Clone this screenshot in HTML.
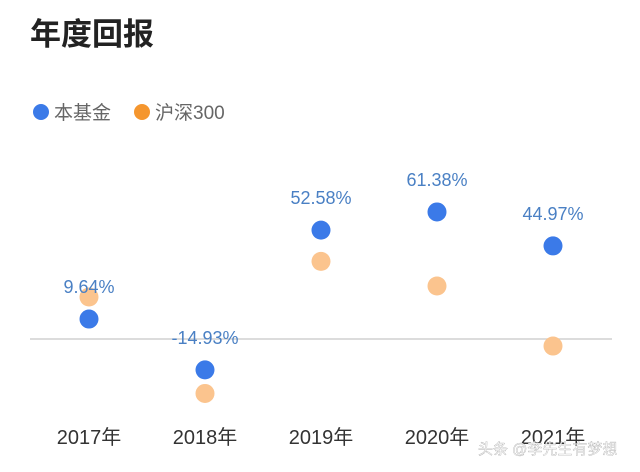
<!DOCTYPE html>
<html><head><meta charset="utf-8"><style>
body{margin:0;background:#fff;width:640px;height:472px;overflow:hidden;font-family:"Liberation Sans","Noto Sans CJK SC",sans-serif;}
</style></head><body>
<svg id="c" width="640" height="472" style="position:absolute;left:0;top:0">
<text x="30" y="45" font-size="31" fill="#222" font-weight="bold" font-family="Liberation Sans,Noto Sans CJK SC,sans-serif">年度回报</text>
<g>
<circle cx="41" cy="112" r="8" fill="#3b7ae8"/>
<text x="54" y="119" font-size="19" fill="#666" font-family="Liberation Sans,Noto Sans CJK SC,sans-serif">本基金</text>
<circle cx="142" cy="112" r="8" fill="#f5962e"/>
<text x="155" y="119" font-size="19" fill="#666" font-family="Liberation Sans,Noto Sans CJK SC,sans-serif">沪深300</text>
</g>
<line x1="30" x2="612" y1="339" y2="339" stroke="#c8c8c8" stroke-width="1.2"/>
<g id="marks"></g>
<text x="478" y="454" font-size="15" fill="#fff" stroke="#999" stroke-width="0.3" font-family="Liberation Sans,Noto Sans CJK SC,sans-serif">头条 @李先生有梦想</text>
</svg>
<script>
const categories=["2017年","2018年","2019年","2020年","2021年"];
const fundValues=[9.64,-14.93,52.58,61.38,44.97];
const indexValues=[20.3,-26.3,37.5,25.6,-3.4];
const valueLabels=["9.64%","-14.93%","52.58%","61.38%","44.97%"];
const NS="http://www.w3.org/2000/svg";
const g=document.getElementById("marks");
function x(i){return 89+i*116;}
function y(v){return 339-v*2.07;}
function mk(t,a){const e=document.createElementNS(NS,t);for(const k in a)e.setAttribute(k,a[k]);g.appendChild(e);return e;}
categories.forEach((c,i)=>{
  let e=mk("circle",{cx:x(i),cy:y(indexValues[i]),r:9.5,fill:"#fbc48e"});
  
  
  e=mk("circle",{cx:x(i),cy:y(fundValues[i]),r:9.5,fill:"#3b7ae8"});
  
  
  e=mk("text",{x:x(i),y:y(fundValues[i])-26,"text-anchor":"middle","font-size":"18",fill:"#4a80c4","font-family":"Liberation Sans,sans-serif"});
  e.textContent=valueLabels[i];
  
  
  e=mk("text",{x:x(i),y:444,"text-anchor":"middle","font-size":"20",fill:"#333","font-family":"Liberation Sans,Noto Sans CJK SC,sans-serif"});
  e.textContent=c;
  
  
});
</script>
</body></html>
